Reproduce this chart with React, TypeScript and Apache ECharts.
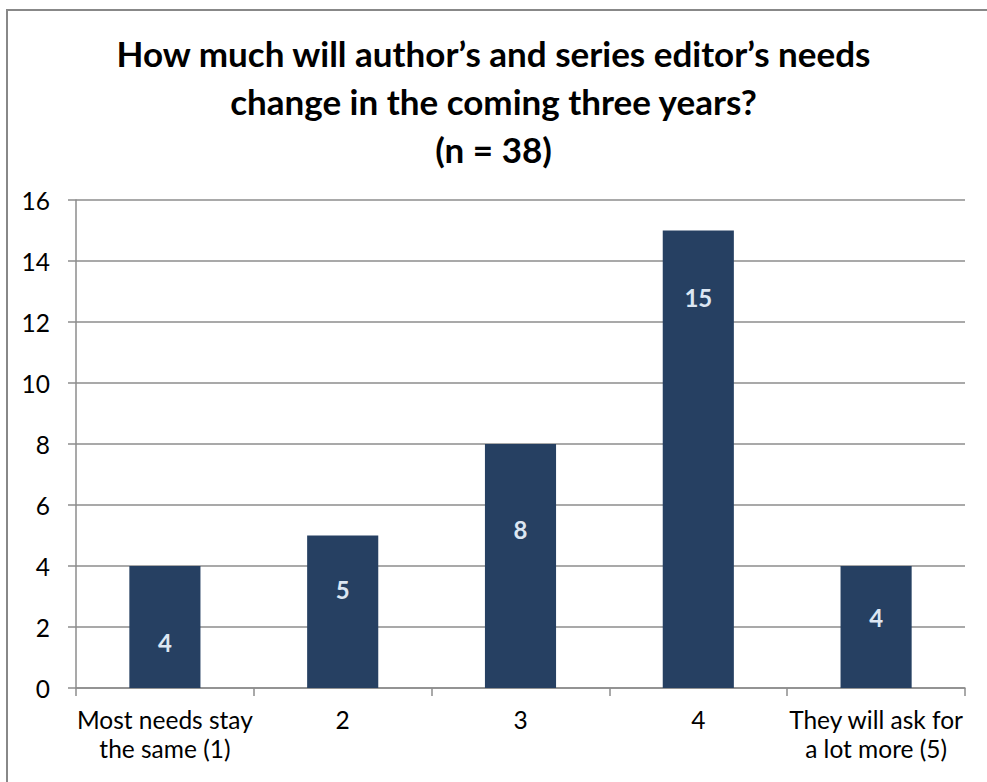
import React, { useEffect, useRef } from "react";
import * as echarts from "echarts";

const titleLines = [
  "How much will author\u2019s and series editor\u2019s needs",
  "change in the coming three years?",
  "(n = 38)",
];
const categories = [
  "Most needs stay\nthe same (1)",
  "2",
  "3",
  "4",
  "They will ask for\na lot more (5)",
];
const counts = [4, 5, 8, 15, 4];
const yTicks = { min: 0, max: 16, interval: 2 };
// distance (px) from bar top to label centre, as placed in the reference
const labelDrop = [76, 54, 85, 67, 51];

const FONT = "Lato, 'Open Sans', sans-serif";

export default function App() {
  const ref = useRef<HTMLDivElement>(null);
  useEffect(() => {
    if (!ref.current) return;
    const chart = echarts.init(ref.current, undefined, { renderer: "svg" });
    chart.setOption({
      animation: false,
      backgroundColor: "#ffffff",
      title: titleLines.map((t, i) => ({
        text: t,
        left: "center",
        top: 35 + i * 48,
        padding: 0,
        textStyle: {
          fontFamily: FONT,
          fontSize: 35,
          fontWeight: "bold",
          color: "#000000",
        },
      })),
      graphic: [
        {
          type: "rect",
          shape: { x: 7, y: 10, width: 1100, height: 900 },
          style: { fill: "none", stroke: "#888888", lineWidth: 2 },
          silent: true,
        },
      ],
      grid: { left: 76, right: 22, top: 200, bottom: 94, containLabel: false },
      xAxis: {
        type: "category",
        data: categories,
        axisLine: { show: true, lineStyle: { color: "#8c8c8c", width: 1.5 } },
        axisTick: { show: true, length: 8, lineStyle: { color: "#8c8c8c", width: 1.5 } },
        axisLabel: {
          interval: 0,
          margin: 17,
          color: "#000000",
          fontFamily: FONT,
          fontSize: 24.5,
          lineHeight: 29,
        },
      },
      yAxis: {
        type: "value",
        min: yTicks.min,
        max: yTicks.max,
        interval: yTicks.interval,
        axisLine: { show: true, lineStyle: { color: "#8c8c8c", width: 1.5 } },
        axisTick: { show: true, length: 8, lineStyle: { color: "#8c8c8c", width: 1.5 } },
        splitLine: { show: true, lineStyle: { color: "#8c8c8c", width: 1.5 } },
        axisLabel: {
          margin: 26,
          color: "#000000",
          fontFamily: FONT,
          fontSize: 24.5,
        },
      },
      series: [
        {
          type: "bar",
          barWidth: "40%",
          itemStyle: { color: "#264062" },
          data: counts.map((v, i) => ({
            value: v,
            label: {
              show: true,
              position: ["50%", labelDrop[i]],
              align: "center",
              verticalAlign: "middle",
              color: "#dce6f2",
              fontFamily: FONT,
              fontWeight: "bold",
              fontSize: 24,
            },
          })),
        },
      ],
    });
    return () => chart.dispose();
  }, []);
  return (
    <div
      ref={ref}
      style={{ position: "fixed", left: 0, top: 0, width: 987, height: 782 }}
    />
  );
}
